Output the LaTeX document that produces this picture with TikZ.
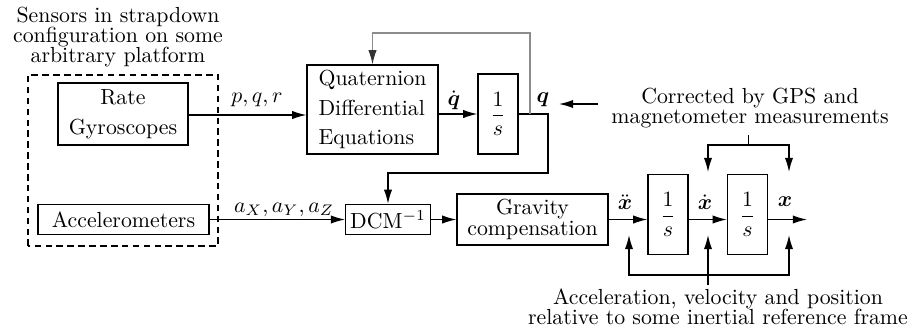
\documentclass[tikz,border=0pt]{standalone}
\usepackage{amsmath}
\usepackage{tikz}
\usetikzlibrary{arrows.meta, positioning, calc}

\begin{document}
\begin{tikzpicture}[
    x=0.4585pt, y=0.4585pt,
    block/.style={rectangle, draw, line width=0.6pt, align=center, inner sep=2pt},
    integ/.style={block, minimum width=18.3pt, minimum height=36.8pt},
    caption/.style={align=center, font=\fontsize{10}{9.3}\selectfont, inner sep=1pt},
    signal/.style={inner sep=0.5pt},
    arrow/.style={-{Latex[length=6.5pt, width=3.8pt]}, line width=0.6pt},
    feedback/.style={-{Latex[length=6.5pt, width=3.8pt, color=black!80]}, draw=black!45, line width=0.5pt}
]
\useasboundingbox (0,0) rectangle (916,331);

% Sensors
\node[caption] (sensorlbl) at (118,294) {Sensors in strapdown\\configuration on some\\arbitrary platform};
\node[block, minimum width=59.6pt, minimum height=28.4pt, font=\fontsize{10}{13.7}\selectfont] (gyro) at (123,217) {Rate\\Gyroscopes};
\node[block, minimum width=78.4pt, minimum height=13.8pt] (accel) at (123.5,111.5) {Accelerometers};
\draw[line width=0.6pt, dash pattern=on 3pt off 2pt] (28,85) rectangle (218,256);

% Attitude
\node[block, minimum width=60pt, minimum height=40.8pt, align=left, font=\fontsize{10}{13.5}\selectfont] (quat) at (372.5,221.5) {Quaternion\\Differential\\Equations};
\node[integ] (intq) at (498,217) {$\dfrac{1}{s}$};

% Navigation
\node[block, minimum width=36.7pt, minimum height=13.8pt] (dcm) at (388,111.5) {DCM$^{-1}$};
\node[block, minimum width=69.2pt, minimum height=23.4pt, font=\fontsize{10}{9.6}\selectfont] (grav) at (532.5,111.5) {Gravity\\compensation};
\node[integ] (intv) at (668,116.5) {$\dfrac{1}{s}$};
\node[integ] (intp) at (747.5,116.5) {$\dfrac{1}{s}$};

% Signal labels
\node[signal] (pqr) at (257,231) {$p, q, r$};
\node[signal] (axyz) at (284,121) {$a_X, a_Y, a_Z$};
\node[signal] (qdotlbl) at (454,231) {$\dot{\boldsymbol{q}}$};
\node[signal] (qlbl) at (543,231) {$\boldsymbol{q}$};
\node[signal] (xddlbl) at (625,129) {$\ddot{\boldsymbol{x}}$};
\node[signal] (xdlbl) at (705,129) {$\dot{\boldsymbol{x}}$};
\node[signal] (xlbl) at (785,129) {$\boldsymbol{x}$};

% Notes
\node[caption] (gpslbl) at (750,223) {Corrected by GPS and\\magnetometer measurements};
\node[caption] (framelbl) at (718,24) {Acceleration, velocity and position\\relative to some inertial reference frame};

% Helper points
\coordinate (qsplit) at (530,217);
\coordinate (qturn) at (548,158);
\coordinate (fbtop) at (530,298);
\coordinate (xout) at (807,111.5);
\coordinate (gpsstart) at (598,227);
\coordinate (qtip) at (559,227);
\coordinate (gpsstem) at (748,196);
\coordinate (gpsbar) at (748,186);
\coordinate (topL) at (708,159);
\coordinate (topR) at (789,159);
\coordinate (framestem) at (708,46);
\coordinate (framebar) at (708,56);
\coordinate (botL) at (629,96);
\coordinate (botM) at (708,96);
\coordinate (botR) at (789,96);

% Arrows
\draw[arrow] (gyro.east |- quat.west) ++(0,-5.5) coordinate (gyroout) -- (gyroout -| quat.west);
\draw[arrow] (intq.west -| quat.east) -- (intq.west);
\draw[arrow] (intq.east) -- (qturn |- intq.east) -- (qturn) -| (dcm.north);
\draw[feedback] (qsplit) -- (fbtop) -| (quat.north);
\draw[arrow] (accel.east) -- (dcm.west);
\draw[arrow] (dcm.east) -- (grav.west);
\draw[arrow] (grav.east) -- (grav.east -| intv.west);
\draw[arrow] (grav.east -| intv.east) -- (grav.east -| intp.west);
\draw[arrow] (grav.east -| intp.east) -- (xout);
\draw[arrow] (gpsstart) -- (qtip);
\draw (gpsstem) -- (gpsbar);
\draw[arrow] (gpsbar) -| (topL);
\draw[arrow] (gpsbar) -| (topR);
\draw[arrow] (framestem) -- (botM);
\draw[arrow] (framebar) -| (botL);
\draw[arrow] (framebar) -| (botR);

\end{tikzpicture}
\end{document}
